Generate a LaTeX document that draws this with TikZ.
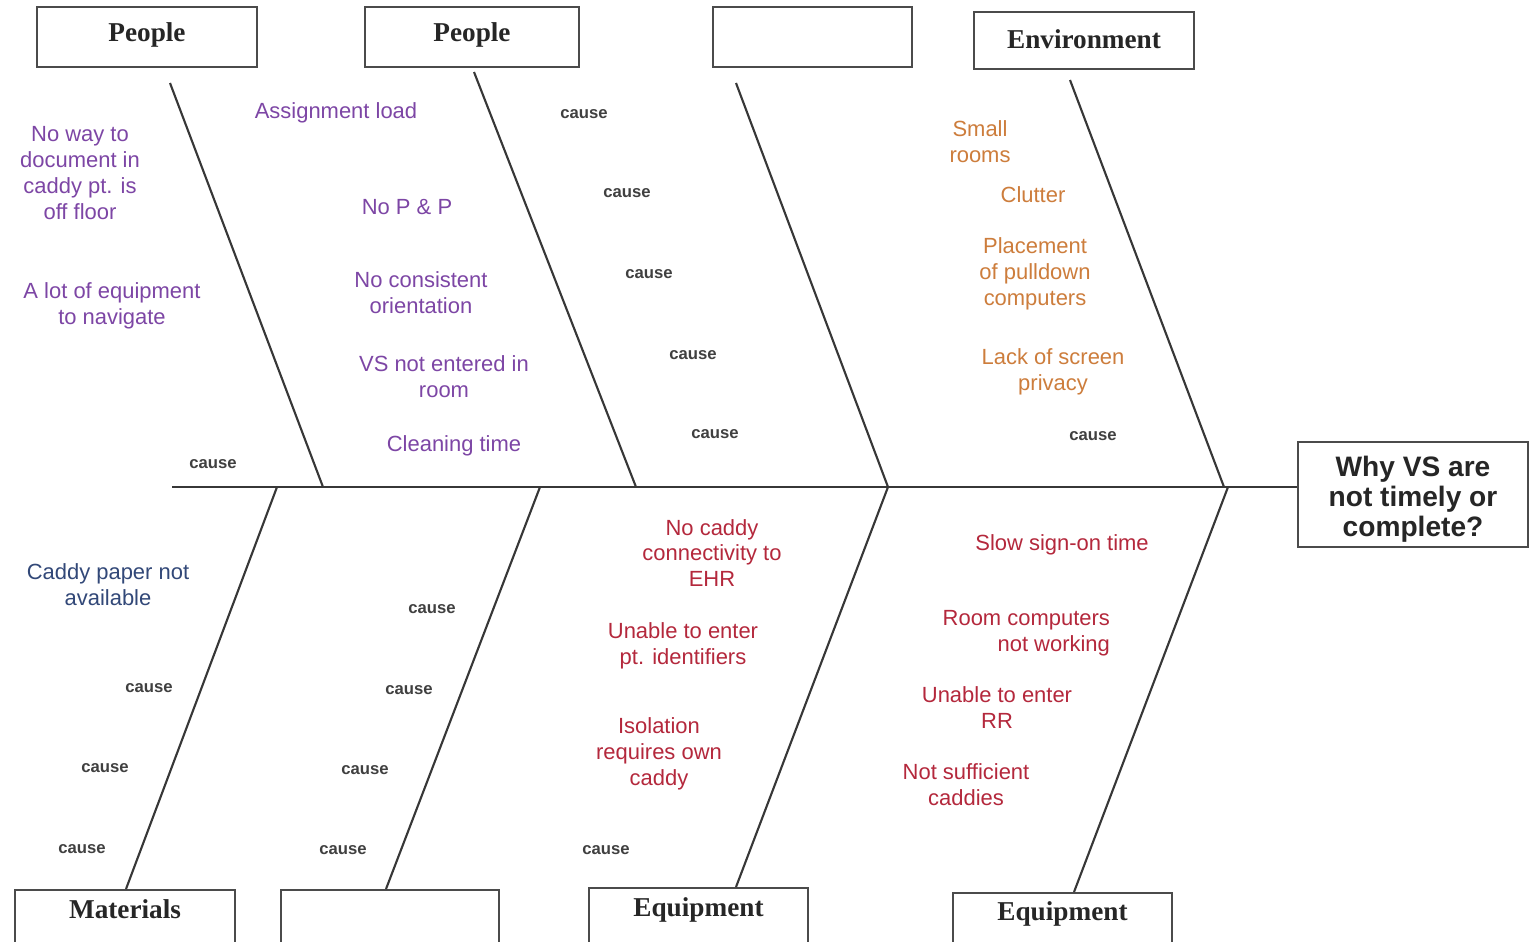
\documentclass[tikz,border=0pt]{standalone}
\usepackage{fontspec}
\setmainfont{Liberation Sans}
\newfontfamily\boxserif{Liberation Serif}
\definecolor{linegray}{RGB}{55,55,55}
\definecolor{boxgray}{RGB}{75,75,75}
\definecolor{ppl}{RGB}{125,70,165}
\definecolor{org}{RGB}{205,125,60}
\definecolor{redc}{RGB}{180,40,60}
\definecolor{bluec}{RGB}{50,72,120}
\tikzset{
  catbox/.style={draw=boxgray, line width=1.6pt, minimum height=1.2cm, inner sep=0pt},
  catlbl/.style={font=\boxserif\bfseries\fontsize{15.5}{17}\selectfont, text=black!85},
  bone/.style={draw=linegray, line width=1.2pt},
  spine/.style={draw=linegray, line width=1.4pt},
  why/.style={font=\txt},
  causetxt/.style={font=\bfseries\fontsize{9.5}{10}\selectfont, text=black!75, inner sep=1pt},
  effect/.style={draw=boxgray, line width=1.6pt, minimum width=4.6cm, minimum height=2.1cm, inner sep=0pt},
  efflbl/.style={align=center, font=\bfseries\fontsize{16}{17}\selectfont, text=black!85},
  pcause/.style={why, text=ppl, align=center, inner sep=1pt},
  ocause/.style={why, text=org, align=center, inner sep=1pt},
  rcause/.style={why, text=redc, align=center, inner sep=1pt},
  bcause/.style={why, text=bluec, align=center, inner sep=1pt},
}
\newcommand{\txt}{\fontsize{12.5}{14.7}\selectfont}
\begin{document}
\begin{tikzpicture}[x=0.02cm,y=-0.02cm]
\useasboundingbox (0,0) rectangle (1530,941);
\clip (0,0) rectangle (1530,941);
\fill[white] (0,0) rectangle (1530,941);

% effect box
\node[effect, label={[efflbl, yshift=-2.5pt]center:{Why VS are\\not timely or\\complete?}}] (eff) at (1413,494.5) {};

% spine
\coordinate (spL) at (172,487);
\draw[spine] (spL) -- (eff.west |- spL);

% top category boxes
\node[catbox, minimum width=4.4cm, label={[catlbl, yshift=1pt]center:People}] (top1) at (147,37) {};
\node[catbox, minimum width=4.28cm, label={[catlbl, yshift=1pt]center:People}] (top2) at (472,37) {};
\node[catbox, minimum width=3.98cm] (top3) at (812.5,37) {};
\node[catbox, minimum width=4.4cm, minimum height=1.14cm, label={[catlbl, yshift=1pt]center:Environment}] (top4) at (1084,40.5) {};

% bottom category boxes
\node[catbox, minimum width=4.4cm, minimum height=1.4cm, label={[catlbl, yshift=9pt]center:Materials}] (bot1) at (125,925) {};
\node[catbox, minimum width=4.36cm, minimum height=1.4cm] (bot2) at (390,925) {};
\node[catbox, minimum width=4.38cm, minimum height=1.4cm, label={[catlbl, yshift=7.5pt]center:Equipment}] (bot3) at (698.5,923) {};
\node[catbox, minimum width=4.38cm, minimum height=1.4cm, label={[catlbl, yshift=8pt]center:Equipment}] (bot4) at (1062.5,928) {};

% bone end points
\coordinate (t1a) at (170,83);  \coordinate (t1b) at (323,487);
\coordinate (t2a) at (474,72);  \coordinate (t2b) at (636,487);
\coordinate (t3a) at (736,83);  \coordinate (t3b) at (888,487);
\coordinate (t4a) at (1070,80); \coordinate (t4b) at (1224,487);
\coordinate (b1a) at (277,487); \coordinate (b1b) at (126,889);
\coordinate (b2a) at (540,487); \coordinate (b2b) at (386,889);
\coordinate (b3a) at (888,487); \coordinate (b3b) at (736,887);
\coordinate (b4a) at (1228,487);\coordinate (b4b) at (1074,892);

\draw[bone] (t1a) -- (t1b);
\draw[bone] (t2a) -- (t2b);
\draw[bone] (t3a) -- (t3b);
\draw[bone] (t4a) -- (t4b);
\draw[bone] (b1a) -- (b1b);
\draw[bone] (b2a) -- (b2b);
\draw[bone] (b3a) -- (b3b);
\draw[bone] (b4a) -- (b4b);

% People (1)
\node[pcause] (p1) at (80,173) {No way to\\document in\\caddy pt. is\\off floor};
\node[pcause] (p2) at (112,305.5) {A lot of equipment\\to navigate};
\node[causetxt] (c1) at (213,464) {cause};

% People (2)
\node[pcause] (p3) at (336,113) {Assignment load};
\node[pcause] (p4) at (407,207) {No P \& P};
\node[pcause] (p5) at (421,293) {No consistent\\orientation};
\node[pcause] (p6) at (444,377) {VS not entered in\\room};
\node[pcause] (p7) at (454,446) {Cleaning time};

% empty top category
\node[causetxt] (c2) at (584,114) {cause};
\node[causetxt] (c3) at (627,193) {cause};
\node[causetxt] (c4) at (649,274) {cause};
\node[causetxt] (c5) at (693,355) {cause};
\node[causetxt] (c6) at (715,434) {cause};

% Environment
\node[ocause] (o1) at (980,142) {Small\\rooms};
\node[ocause] (o2) at (1033,195) {Clutter};
\node[ocause] (o3) at (1035,274) {Placement\\of pulldown\\computers};
\node[ocause] (o4) at (1053,372) {Lack of screen\\privacy};
\node[causetxt] (c7) at (1093,436) {cause};

% Materials
\node[bcause] (m1) at (108,584.5) {Caddy paper not\\available};
\node[causetxt] (c8) at (149,688) {cause};
\node[causetxt] (c9) at (105,768) {cause};
\node[causetxt] (c10) at (82,849) {cause};

% empty bottom category
\node[causetxt] (c11) at (432,609) {cause};
\node[causetxt] (c12) at (409,690) {cause};
\node[causetxt] (c13) at (365,770) {cause};
\node[causetxt] (c14) at (343,850) {cause};

% Equipment (1)
\node[rcause] (r1) at (712,553) {No caddy\\connectivity to\\EHR};
\node[rcause] (r2) at (683,646) {Unable to enter\\pt. identifiers};
\node[rcause] (r3) at (659,754) {Isolation\\requires own\\caddy};
\node[causetxt] (c15) at (606,850) {cause};

% Equipment (2)
\node[rcause] (r4) at (1062,545) {Slow sign-on time};
\node[rcause, align=right, anchor=east] (r5) at (1112,633.5) {Room computers\\not working};
\node[rcause] (r6) at (997,707.5) {Unable to enter\\RR};
\node[rcause] (r7) at (966,785) {Not sufficient\\caddies};
\end{tikzpicture}
\end{document}
